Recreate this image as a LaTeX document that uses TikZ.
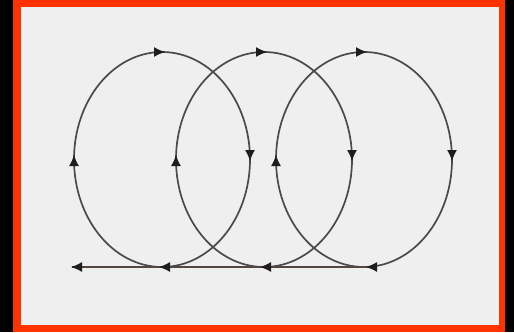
\documentclass[tikz,border=0pt]{standalone}
\usetikzlibrary{arrows.meta}
\definecolor{frameorange}{HTML}{FF3300}
\definecolor{paper}{HTML}{EFEFEF}
\definecolor{ink}{HTML}{4A4A4A}
\definecolor{tipink}{HTML}{1E1E1E}
\definecolor{baseink}{HTML}{54473F}
\tikzset{
  loopline/.style={draw=ink, line width=1.7pt},
  baseline/.style={draw=baseink, line width=2.4pt},
  tip/.style={draw=tipink, line width=1.2pt, -{Latex[length=11pt,width=10pt]}},
}
\begin{document}
\begin{tikzpicture}[x=1pt,y=-1pt]
\useasboundingbox (0,0) rectangle (514,332);
\fill[black] (0,0) rectangle (514,332);
\fill[frameorange] (13,0) rectangle (505,332);
\fill[paper] (21,7) rectangle (499,325);
% ellipses
\foreach \cx in {162,264,364}{
  \draw[loopline] (\cx,159.5) ellipse [x radius=88, y radius=107.5];
}
% base line
\coordinate (bstart) at (372,267);
\coordinate (bend) at (72,267);
\draw[baseline] (bstart) -- (bend);
% arrow tips
\foreach \cx in {162,264,364}{
  \draw[tip] (\cx-7,52) -- (\cx+3,52);          % top, to the right
  \draw[tip] (\cx+88,151) -- (\cx+88,161);      % right side, down
  \draw[tip] (\cx-88,165) -- (\cx-88,155);      % left side, up
}
\draw[tip] (169,267) -- (159,267);
\draw[tip] (270,267) -- (260,267);
\draw[tip] (376,267) -- (366,267);
\draw[tip] (81,267) -- (71,267);
\end{tikzpicture}
\end{document}
